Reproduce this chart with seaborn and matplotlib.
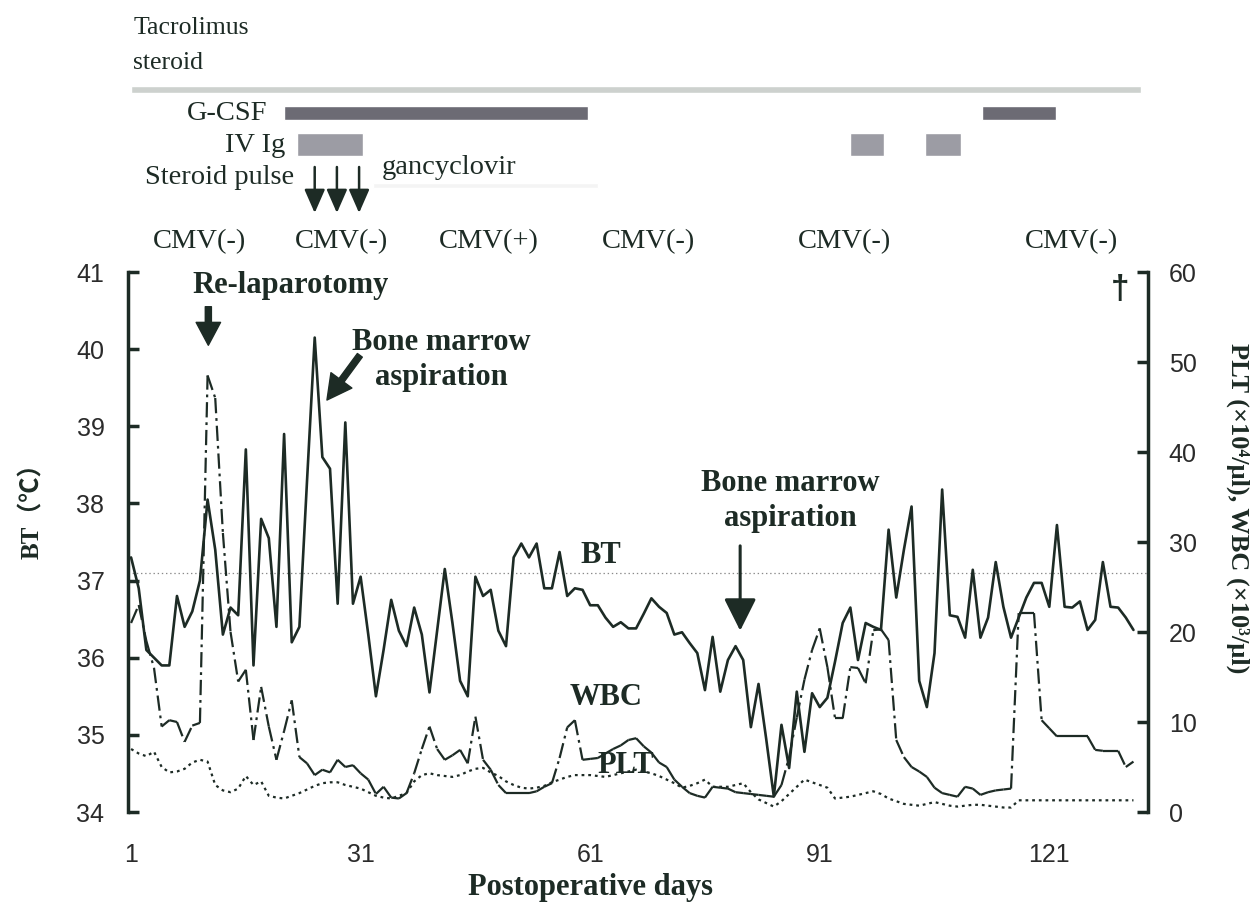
import numpy as np
import pandas as pd
import seaborn as sns
import matplotlib
matplotlib.use('Agg')
from matplotlib import pyplot as plt

# daily course, postoperative day 1..132
days = np.arange(1, 133)
bt = [37.3, 36.9, 36.1, 36.0, 35.9, 35.9, 36.8, 36.4, 36.6, 37.0,
      38.05, 37.4, 36.3, 36.65, 36.55, 38.7, 35.9, 37.8, 37.55, 36.4,
      38.9, 36.2, 36.4, 38.3, 40.15, 38.6, 38.45, 36.7, 39.05, 36.7,
      37.05, 36.3, 35.5, 36.1, 36.75, 36.35, 36.15, 36.65, 36.3, 35.55,
      36.35, 37.15, 36.45, 35.7, 35.5, 37.05, 36.8, 36.88, 36.35, 36.15,
      37.3, 37.48, 37.3, 37.48, 36.9, 36.9, 37.37, 36.8, 36.9, 36.88,
      36.68, 36.68, 36.52, 36.4, 36.46, 36.38, 36.38, 36.57, 36.77, 36.66,
      36.58, 36.3, 36.33, 36.19, 36.06, 35.58, 36.27, 35.56, 35.97, 36.15,
      35.97, 35.1, 35.66, 34.95, 34.2, 35.13, 34.57, 35.56, 34.78, 35.54,
      35.36, 35.48, 35.95, 36.45, 36.65, 35.97, 36.45, 36.4, 36.36, 37.66,
      36.78, 37.4, 37.96, 35.7, 35.36, 36.06, 38.18, 36.55, 36.53, 36.26,
      37.14, 36.26, 36.52, 37.24, 36.66, 36.26, 36.52, 36.78, 36.97, 36.97,
      36.66, 37.72, 36.66, 36.65, 36.73, 36.36, 36.49, 37.24, 36.66, 36.65,
      36.52, 36.36]
wbc = [21.0, 23.0, 19.0, 16.0, 9.5, 10.2, 10.0, 7.8, 9.6, 9.9,
       48.5, 46.0, 31.0, 20.0, 14.5, 15.8, 8.0, 13.9, 9.5, 5.8,
       9.0, 12.4, 6.1, 5.4, 4.1, 4.7, 4.4, 5.8, 5.0, 5.2,
       4.3, 3.6, 2.0, 2.8, 1.6, 1.5, 2.1, 4.3, 7.0, 9.5,
       7.0, 5.8, 6.3, 6.9, 5.4, 10.6, 5.8, 4.7, 3.0, 2.1,
       2.1, 2.1, 2.1, 2.3, 2.8, 3.2, 6.0, 9.4, 10.2, 5.8,
       5.9, 6.0, 6.5, 7.0, 7.4, 8.0, 8.2, 7.3, 6.6, 5.5,
       5.0, 3.6, 2.8, 2.1, 1.8, 1.6, 2.8, 2.7, 2.6, 2.2,
       2.1, 2.0, 1.9, 1.8, 1.7, 3.0, 6.1, 10.5, 14.7, 18.0,
       20.4, 16.1, 10.4, 10.4, 16.1, 16.0, 14.3, 20.2, 20.3, 19.1,
       8.0, 6.1, 5.0, 4.5, 3.9, 2.7, 2.1, 1.9, 1.7, 2.8,
       2.6, 1.9, 2.2, 2.4, 2.5, 2.6, 22.1, 22.1, 22.1, 10.2,
       9.3, 8.4, 8.4, 8.4, 8.4, 8.4, 6.9, 6.8, 6.8, 6.8,
       5.0, 5.6]
plt_count = [7.0, 6.5, 6.2, 6.7, 5.0, 4.4, 4.5, 4.8, 5.5, 5.8,
             5.6, 3.0, 2.4, 2.2, 2.6, 4.0, 3.0, 3.4, 1.8, 1.6,
             1.5, 1.8, 2.1, 2.5, 2.9, 3.2, 3.3, 3.3, 3.0, 2.8,
             2.6, 2.2, 1.8, 1.6, 1.5, 1.8, 2.1, 3.4, 4.1, 4.3,
             4.1, 4.0, 3.9, 4.1, 4.5, 4.8, 4.9, 4.4, 4.0, 3.4,
             3.0, 2.7, 2.6, 2.7, 2.9, 3.3, 3.6, 3.9, 4.1, 4.1,
             4.1, 4.0, 3.9, 4.1, 4.3, 4.5, 4.7, 4.5, 4.3, 4.0,
             3.6, 3.2, 2.7, 2.9, 3.2, 3.6, 2.8, 2.8, 2.8, 3.0,
             3.2, 2.2, 1.4, 1.0, 0.6, 1.2, 2.0, 2.8, 3.6, 3.3,
             3.0, 2.7, 1.5, 1.6, 1.7, 1.9, 2.1, 2.3, 2.0, 1.5,
             1.2, 0.9, 0.8, 0.7, 0.9, 1.1, 0.9, 0.7, 0.6, 0.7,
             0.8, 0.8, 0.7, 0.6, 0.5, 0.5, 1.3, 1.3, 1.3, 1.3,
             1.3, 1.3, 1.3, 1.3, 1.3, 1.3, 1.3, 1.3, 1.3, 1.3,
             1.3, 1.3]

# treatments (start day, end day)
tacrolimus_course = (1, 133)
gcsf_courses = [(21, 60.7), (112.2, 121.9)]
ivig_courses = [(22.7, 31.3), (94.9, 99.4), (104.8, 109.4)]
gancyclovir_course = (32.6, 62)
steroid_pulse_days = [25.0, 27.9, 30.8]
cmv_days = [9.9, 28.5, 47.7, 68.6, 94.2, 123.9]
cmv_status = ['CMV(-)', 'CMV(-)', 'CMV(+)', 'CMV(-)', 'CMV(-)', 'CMV(-)']
day_ticks = [1, 31, 61, 91, 121]

ink = '#1d2b25'
serif = ['Liberation Serif', 'DejaVu Serif']
sans = ['Liberation Sans', 'DejaVu Sans']

sns.set_style('white')
plt.rcParams['font.family'] = serif
plt.rcParams['lines.scale_dashes'] = False

W, H = 1256, 910
fig = plt.figure(figsize=(W / 100, H / 100), dpi=100)
ax = fig.add_axes([128 / W, 98 / H, 1020 / W, 540 / H])
ax2 = ax.twinx()
top = fig.add_axes([128 / W, 1 - 262 / H, 1020 / W, 262 / H])
xlim = (0.6, 133.9)

# body temperature
ax.axhline(37.1, color='#8a8a8a', lw=0.9, ls=(0, (1, 2)))
sns.lineplot(x=days, y=bt, ax=ax, color=ink, linewidth=1.9)

# WBC: dash-dot pattern restarts on every daily segment (as the original)
idx = np.column_stack([np.arange(len(days) - 1), np.arange(1, len(days))]).ravel()
wbc_df = pd.DataFrame({'day': days[idx], 'wbc': np.asarray(wbc)[idx],
                       'seg': np.repeat(np.arange(len(days) - 1), 2)})
sns.lineplot(data=wbc_df, x='day', y='wbc', units='seg', estimator=None, ax=ax2,
             color=ink, linewidth=1.6, linestyle=(0, (11, 3.5, 2, 3.5)), legend=False)
sns.lineplot(x=days, y=plt_count, ax=ax2, color=ink, linewidth=1.6,
             linestyle=(0, (2, 2.8)))

ax.set_xlim(*xlim)
ax.set_ylim(34, 41)
ax2.set_ylim(0, 60)
for a in (ax, ax2):
    a.set_xlabel('')
    a.set_ylabel('')
    for s in a.spines.values():
        s.set_visible(False)
ax.spines['left'].set_visible(True)
ax.spines['left'].set_linewidth(2.5)
ax.spines['left'].set_color(ink)
ax2.spines['right'].set_visible(True)
ax2.spines['right'].set_linewidth(2.5)
ax2.spines['right'].set_color(ink)

ax.set_yticks(range(34, 42), [str(v) for v in range(34, 42)], fontfamily=sans)
ax2.set_yticks(range(0, 61, 10), [str(v) for v in range(0, 61, 10)], fontfamily=sans)
ax.set_xticks(day_ticks, [str(d) for d in day_ticks], fontfamily=sans)
ax.tick_params(axis='y', direction='in', length=8, width=2.5, color=ink,
               labelsize=18, pad=17, labelcolor='#2b2b2b', left=True)
ax2.tick_params(axis='y', direction='in', length=8, width=2.5, color=ink,
                labelsize=18, pad=15, labelcolor='#2b2b2b', right=True)
ax.tick_params(axis='x', length=0, labelsize=18, pad=22, labelcolor='#2b2b2b')

# annotations in the plot
bold = dict(fontsize=22, fontweight='bold', color=ink, ha='center', va='center')
ax.text(21.8, 40.83, 'Re-laparotomy', **bold)
ax.annotate('', xy=(11.1, 40.05), xytext=(11.1, 40.55),
            arrowprops=dict(arrowstyle='simple,head_length=0.75,head_width=0.8,tail_width=0.2',
                            color=ink, mutation_scale=22, shrinkA=0, shrinkB=0))
ax.text(41.6, 39.86, 'Bone marrow\naspiration', linespacing=1.25, **bold)
ax.annotate('', xy=(26.6, 39.34), xytext=(30.9, 39.92),
            arrowprops=dict(arrowstyle='simple,head_length=0.8,head_width=0.85,tail_width=0.2',
                            color=ink, mutation_scale=22, shrinkA=0, shrinkB=0))
ax.text(87.1, 38.03, 'Bone marrow\naspiration', linespacing=1.25, **bold)
ax.annotate('', xy=(80.6, 36.35), xytext=(80.6, 37.45),
            arrowprops=dict(arrowstyle='-|>,head_length=0.9,head_width=0.45',
                            color=ink, lw=2.2, mutation_scale=22, shrinkA=0, shrinkB=0))
ax.text(62.4, 37.32, 'BT', **bold)
ax.text(63.1, 35.48, 'WBC', **bold)
ax.text(65.6, 34.6, 'PLT', **bold)
ax.text(130.3, 40.77, '\u2020', fontsize=24, fontweight='bold', color=ink,
        ha='center', va='center', family=sans)

# treatment panel above the plot (y in pixel rows)
top.set_xlim(*xlim)
top.set_ylim(262, 0)
top.axis('off')
top.barh(89.5, tacrolimus_course[1] - tacrolimus_course[0], left=tacrolimus_course[0],
         height=7, color='#cdd1ce')
for s, e in gcsf_courses:
    top.barh(113, e - s, left=s, height=14, color='#6c6b74')
for s, e in ivig_courses:
    top.barh(144.5, e - s, left=s, height=23, color='#9c9ca4')
top.barh(185, gancyclovir_course[1] - gancyclovir_course[0], left=gancyclovir_course[0],
         height=5, color='#f4f4f4')
for d in steroid_pulse_days:
    top.annotate('', xy=(d, 213), xytext=(d, 167),
                 arrowprops=dict(arrowstyle='-|>,head_length=0.8,head_width=0.35',
                                 color=ink, lw=1.8, mutation_scale=18, shrinkA=0, shrinkB=0))
lab = dict(color=ink, va='center')
top.text(1.3, 28, 'Tacrolimus', fontsize=18.5, ha='left', **lab)
top.text(1.3, 63, 'steroid', fontsize=18.5, ha='left', **lab)
top.text(18.8, 113, 'G-CSF', fontsize=20.5, ha='right', **lab)
top.text(21.1, 146, 'IV Ig', fontsize=20.5, ha='right', **lab)
top.text(22.3, 178, 'Steroid pulse', fontsize=20.5, ha='right', **lab)
top.text(33.8, 168, 'gancyclovir', fontsize=20.5, ha='left', **lab)
for d, s in zip(cmv_days, cmv_status):
    top.text(d, 242, s, fontsize=20.5, ha='center', **lab)

# axis titles
fig.text(32 / W, 1 - 505 / H, 'BT\uff08\u2103\uff09', rotation=90, ha='center', va='center',
         fontsize=18, fontweight='bold', color=ink,
         family=['Liberation Serif', 'Noto Sans CJK JP', 'DejaVu Serif'])
fig.text(1238 / W, 1 - 508 / H, 'PLT (\u00d710\u2074/\u03bcl), WBC (\u00d710\u00b3/\u03bcl)',
         rotation=270, ha='center', va='center', fontsize=19, fontweight='bold', color=ink)
fig.text(590 / W, 1 - 888 / H, 'Postoperative days', ha='center', va='center',
         fontsize=22, fontweight='bold', color=ink)

fig.savefig('out.png', dpi=100)
